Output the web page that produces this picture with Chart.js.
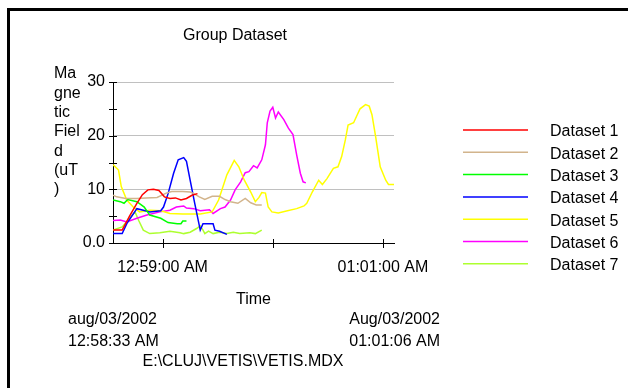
<!DOCTYPE html>
<html>
<head>
<meta charset="utf-8">
<script src="https://cdn.jsdelivr.net/npm/chart.js@4.4.1/dist/chart.umd.min.js"></script>
<style>
  html, body { margin: 0; padding: 0; background: #fff; }
  #wrap { position: relative; width: 628px; height: 388px; overflow: hidden; }
  #frame { position: absolute; left: 7px; top: 8px; right: -10px; bottom: -10px;
           border-top: 3px solid #000; border-left: 3px solid #000; }
  canvas { position: absolute; left: 0; top: 0; }
</style>
</head>
<body>
<div id="wrap">
  <div id="frame"></div>
  <canvas id="chart" width="628" height="388"></canvas>
</div>
<script>
// seconds counted from 12:58:33 AM
const seriesNames = ['Dataset 1', 'Dataset 2', 'Dataset 3', 'Dataset 4', 'Dataset 5', 'Dataset 6', 'Dataset 7'];
const seriesColors = ['#ff0000', '#d2b48c', '#00ff00', '#0000ff', '#ffff00', '#ff00ff', '#adff2f'];

const t1 = [0, 5, 9, 13, 16, 19, 22, 25, 28, 31, 34, 37, 40, 43, 46];
const v1 = [2.4, 2.4, 5, 7.4, 9, 9.9, 10, 9.8, 8.6, 8.3, 8.4, 8, 8.3, 8.9, 9.2];

const t2 = [0, 2, 7, 13, 18, 24, 29, 32, 38, 42, 44, 47, 50, 54, 58, 61, 64, 68, 72, 75, 78, 81];
const v2 = [8.9, 8.6, 8.3, 8.3, 8.4, 8.5, 9.3, 9.6, 9.6, 9.5, 9.2, 8.6, 8.1, 8.7, 8.7, 8.1, 7.7, 7.4, 8.3, 7.5, 7.1, 7.1];

const t3 = [0, 4, 6, 8, 13, 17, 20, 26, 30, 35, 37, 38, 40];
const v3 = [8, 7.7, 7.4, 8.1, 7.7, 6.7, 5.2, 4.6, 3.8, 3.6, 3.6, 4.1, 4.1];

const t4 = [0, 5, 7.5, 13, 16.5, 20, 26, 27.5, 30, 33, 35.5, 38.5, 40, 42, 44.5, 47.5, 49, 54.5, 55.5, 58, 62];
const v4 = [1.75, 1.75, 3.6, 6.4, 6.1, 5.8, 6, 6.7, 9.2, 13, 15.5, 15.9, 15.2, 11.7, 7.4, 2.4, 3.6, 3.6, 2.4, 2.2, 1.6];

const t5 = [0, 3, 4.5, 7.5, 11, 14.5, 20, 26, 31, 38, 47.5, 54, 57.5, 62, 66, 68.5, 71.5, 75, 77.5, 79.5,
            81, 83, 84.5, 86.5, 90, 95, 100, 104, 105.5, 108.5, 112, 114, 116.5, 120, 122.5, 124.5, 126.5,
            128, 131, 133, 134.5, 137.5, 139.5, 141, 143, 145.5, 148.5, 150, 153];
const v5 = [14.6, 13.6, 10.5, 8, 6.7, 5.8, 6.1, 6, 5.5, 5.4, 5.4, 5.8, 8, 12.7, 15.4, 14.2, 11.7, 9.5, 7.7, 8.5,
            9.4, 9.3, 6.7, 5.8, 5.6, 6, 6.4, 6.9, 7.4, 9.5, 11.7, 10.9, 12, 13.9, 14.2, 16.1, 19.2,
            22, 22.4, 23.9, 25, 25.8, 25.5, 23.9, 19.8, 14.2, 11.7, 10.9, 10.9];

const t6 = [0, 4, 7.5, 13, 18.5, 25.5, 31, 34.5, 38.5, 40, 44, 47.5, 52.5, 54.5, 58.5, 61, 64, 66.5, 69.5,
            72, 74, 76.5, 78.5, 81, 83, 84, 85.5, 87, 88.5, 90, 93, 95.5, 98, 100, 102, 103.5, 105];
const v6 = [4.2, 4.3, 3.9, 4.6, 5.2, 5.8, 6.1, 6.7, 6.9, 6.5, 6.4, 6, 6.2, 5.5, 6.4, 6.7, 8, 9.9, 11.4,
            13.1, 13.3, 14.4, 14, 15.5, 18.3, 22.4, 24.6, 25.3, 23.3, 24.4, 23, 21.4, 20.2, 16.4, 13, 11.4, 11.2];

const t7 = [0, 5, 9, 12, 14, 16.5, 20, 25.5, 31, 36.5, 38.5, 42, 45.5, 47.5, 49, 50, 52, 54.5, 58, 62,
            65.5, 69, 74.5, 77.5, 81];
const v7 = [2.4, 3, 4.6, 5.8, 4.2, 2.4, 1.75, 1.9, 2.2, 1.9, 1.75, 2, 2.7, 3.2, 2.4, 1.75, 2.2, 1.75, 2, 1.75,
            2, 1.75, 1.9, 1.75, 2.4];

const xTickValues = [27, 87, 147];
const xTickLabels = ['12:59:00 AM', '', '01:01:00 AM'];
const yTickValues = [0, 5, 10, 15, 20, 25, 30];
const yTickLabels = ['0.0', '', '10', '', '20', '', '30'];

const chartTitle = 'Group Dataset';
const yTitleLines = ['Ma', 'gne', 'tic', 'Fiel', 'd', '(uT', ')'];
const startDate = 'aug/03/2002', startTime = '12:58:33 AM';
const endDate = 'Aug/03/2002', endTime = '01:01:06 AM';
const fileName = 'E:\\CLUJ\\VETIS\\VETIS.MDX';

const FONT = '"Liberation Sans", Arial, sans-serif';
const times = [t1, t2, t3, t4, t5, t6, t7];
const values = [v1, v2, v3, v4, v5, v6, v7];

const datasets = seriesNames.map((name, i) => ({
    label: name,
    data: times[i].map((t, j) => ({x: t, y: values[i][j]})),
    borderColor: seriesColors[i],
    backgroundColor: seriesColors[i],
    borderWidth: 1.5,
    pointRadius: 0,
    tension: 0
}));

// short black tick marks that cross both axes
const crossTicks = {
    id: 'crossTicks',
    afterDatasetsDraw(chart) {
        const ctx = chart.ctx;
        const xs = chart.scales.x, ys = chart.scales.y;
        ctx.save();
        ctx.strokeStyle = '#000';
        ctx.lineWidth = 1;
        ys.ticks.forEach(t => {
            const y = Math.round(ys.getPixelForValue(t.value)) + 0.5;
            ctx.beginPath();
            ctx.moveTo(xs.left - 4, y);
            ctx.lineTo(xs.left + 4, y);
            ctx.stroke();
        });
        xs.ticks.forEach(t => {
            const x = Math.round(xs.getPixelForValue(t.value)) + 0.5;
            ctx.beginPath();
            ctx.moveTo(x, ys.bottom - 4);
            ctx.lineTo(x, ys.bottom + 5);
            ctx.stroke();
        });
        ctx.restore();
    }
};

// title, vertical axis caption, legend and footer texts
const frameText = {
    id: 'frameText',
    afterDraw(chart) {
        const ctx = chart.ctx;
        ctx.save();
        ctx.fillStyle = '#000';
        ctx.textBaseline = 'middle';

        ctx.font = '16px ' + FONT;
        ctx.textAlign = 'center';
        ctx.fillText(chartTitle, 235, 36);

        ctx.textAlign = 'left';
        yTitleLines.forEach((s, i) => ctx.fillText(s, 54, 74 + i * 19.3));

        chart.data.datasets.forEach((ds, i) => {
            const y = 130 + i * 22.3;
            ctx.strokeStyle = ds.borderColor;
            ctx.lineWidth = 1.5;
            ctx.beginPath();
            ctx.moveTo(463, y);
            ctx.lineTo(528, y);
            ctx.stroke();
            ctx.fillText(ds.label, 550, y + 2);
        });

        ctx.fillText(startDate, 68, 320);
        ctx.fillText(startTime, 68, 342);
        ctx.textAlign = 'right';
        ctx.fillText(endDate, 440, 320);
        ctx.fillText(endTime, 440, 342);
        ctx.textAlign = 'center';
        ctx.fillText(fileName, 243, 362);
        ctx.restore();
    }
};

new Chart(document.getElementById('chart'), {
    type: 'line',
    data: { datasets: datasets },
    options: {
        responsive: false,
        animation: false,
        layout: { padding: { left: 0, top: 82, right: 234, bottom: 79 } },
        plugins: {
            legend: { display: false },
            title: { display: false },
            tooltip: { enabled: false }
        },
        scales: {
            x: {
                type: 'linear',
                min: 0,
                max: 153,
                afterBuildTicks: axis => { axis.ticks = xTickValues.map(v => ({value: v})); },
                afterFit: axis => { axis.height = 66; },
                ticks: {
                    color: '#000',
                    font: { size: 16, family: FONT },
                    padding: 10,
                    maxRotation: 0,
                    autoSkip: false,
                    callback: (v, i) => xTickLabels[i]
                },
                grid: { drawOnChartArea: false, drawTicks: true, tickLength: 5, tickColor: 'transparent' },
                border: { color: '#000', width: 1 },
                title: {
                    display: true,
                    text: 'Time',
                    color: '#000',
                    font: { size: 16, family: FONT },
                    padding: 0
                }
            },
            y: {
                min: 0,
                max: 30,
                afterBuildTicks: axis => { axis.ticks = yTickValues.map(v => ({value: v})); },
                afterFit: axis => { axis.width = 113; },
                ticks: {
                    color: '#000',
                    font: { size: 16, family: FONT },
                    padding: 4,
                    autoSkip: false,
                    callback: (v, i) => yTickLabels[i]
                },
                grid: {
                    color: c => (c.tick && c.tick.value > 0 && c.tick.value % 10 === 0) ? '#c0c0c0' : 'transparent',
                    lineWidth: 1,
                    drawTicks: true,
                    tickLength: 4,
                    tickColor: 'transparent'
                },
                border: { color: '#000', width: 1 }
            }
        }
    },
    plugins: [crossTicks, frameText]
});
</script>
</body>
</html>
